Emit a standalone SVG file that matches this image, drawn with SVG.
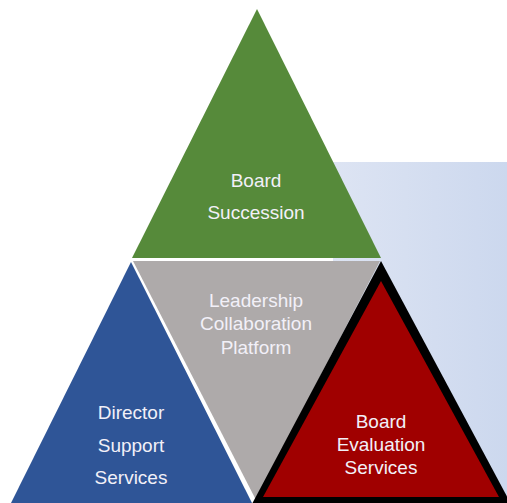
<svg xmlns="http://www.w3.org/2000/svg" width="507" height="503" viewBox="0 0 507 503">
<defs>
<linearGradient id="bg" x1="0" y1="0" x2="1" y2="0">
<stop offset="0" stop-color="#dde4f3"/>
<stop offset="1" stop-color="#ccd8ee"/>
</linearGradient>
<style>
.lbl{font-family:"Liberation Sans",Arial,sans-serif;font-size:19px;fill:#f2f0f8;text-anchor:middle}
</style>
</defs>
<rect x="0" y="0" width="507" height="503" fill="#ffffff"/>
<rect x="333" y="162" width="174" height="341" fill="url(#bg)"/>
<g id="board-succession">
<polygon points="257,9 132,258 381,258" fill="#568a3a"/>
<text class="lbl" x="256" y="187">Board</text>
<text class="lbl" x="256" y="219">Succession</text>
</g>
<g id="leadership-collaboration">
<polygon points="133,261 380,261 256,500" fill="#aeaaaa"/>
<text class="lbl" x="256" y="307">Leadership</text>
<text class="lbl" x="256" y="330">Collaboration</text>
<text class="lbl" x="256" y="354">Platform</text>
</g>
<g id="director-support">
<polygon points="131,262 11,503 252,503" fill="#2f5597"/>
<text class="lbl" x="131" y="419">Director</text>
<text class="lbl" x="131" y="452">Support</text>
<text class="lbl" x="131" y="484">Services</text>
</g>
<g id="board-evaluation">
<polygon points="381,261 252,504 511,504" fill="#000000"/>
<polygon points="381,281 263,497 499,497" fill="#a00000"/>
<text class="lbl" x="381" y="428">Board</text>
<text class="lbl" x="381" y="451">Evaluation</text>
<text class="lbl" x="381" y="474">Services</text>
</g>
<g id="connectors"/>
</svg>
